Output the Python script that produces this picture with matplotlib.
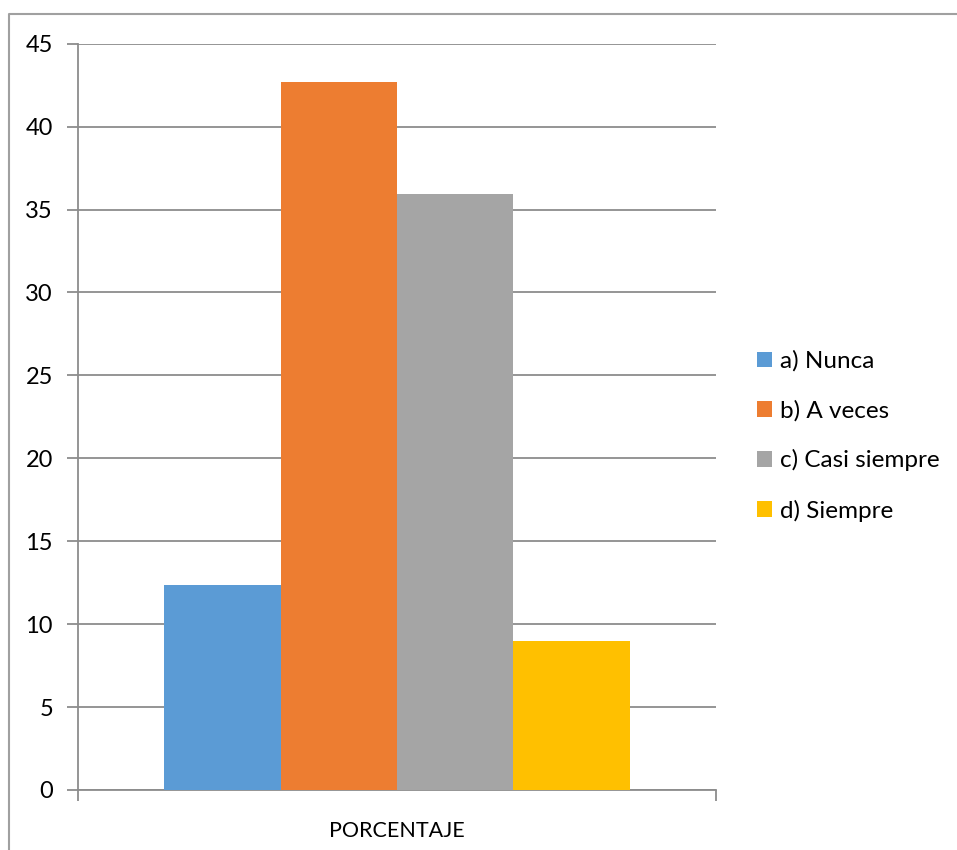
import matplotlib
matplotlib.use('Agg')
import matplotlib.pyplot as plt
from matplotlib.lines import Line2D
from matplotlib.patches import Patch

categories = ['PORCENTAJE']
series = ['a) Nunca', 'b) A veces', 'c) Casi siempre', 'd) Siempre']
values = [12.36, 42.70, 35.96, 8.99]
colors = ['#5b9bd5', '#ed7d31', '#a5a5a5', '#ffc000']
yticks = list(range(0, 50, 5))

plt.rcParams['font.family'] = ['Lato', 'DejaVu Sans']

fig = plt.figure(figsize=(9.57, 8.5), dpi=100)
ax = fig.add_axes([78 / 957, 60 / 850, (716 - 78) / 957, (790 - 43.7) / 850])

# four bars side by side inside the single category
w = 0.1823
for i, (name, v, c) in enumerate(zip(series, values, colors)):
    ax.bar((i - 1.5) * w, v, width=w, color=c, label=name, zorder=3)

grid_c = '#8c8c8c'
ax.set_xlim(-0.5, 0.5)
ax.set_ylim(0, 45)
ax.set_yticks(yticks)
ax.yaxis.grid(True, color=grid_c, lw=1.3, zorder=0)
ax.tick_params(axis='y', length=8, color=grid_c, width=1.3, labelsize=17, pad=10)
ax.set_xticks([0])
ax.set_xticklabels(categories)
ax.set_xticks([-0.5, 0.5], minor=True)
ax.tick_params(axis='x', which='major', length=0, labelsize=15.5, pad=22)
ax.tick_params(axis='x', which='minor', length=8, color=grid_c, width=1.3)

for s in ['top', 'right']:
    ax.spines[s].set_visible(False)
for s in ['left', 'bottom']:
    ax.spines[s].set_color(grid_c)
    ax.spines[s].set_linewidth(1.3)

handles = [Patch(facecolor=c, edgecolor='none') for c in colors]
fig.legend(handles, series, loc='center left', bbox_to_anchor=(757 / 957, 1 - 436 / 850),
           frameon=False, fontsize=17.5, handlelength=0.6, handleheight=0.6,
           handletextpad=0.35, labelspacing=1.15, borderaxespad=0, borderpad=0)

# chart area outline
bx, by = 9 / 957, 1 - 14 / 850
fig.add_artist(Line2D([bx, bx, 1], [0, by, by], transform=fig.transFigure,
                      color='#a0a0a0', lw=1.5))

fig.savefig('out.png', dpi=100)
